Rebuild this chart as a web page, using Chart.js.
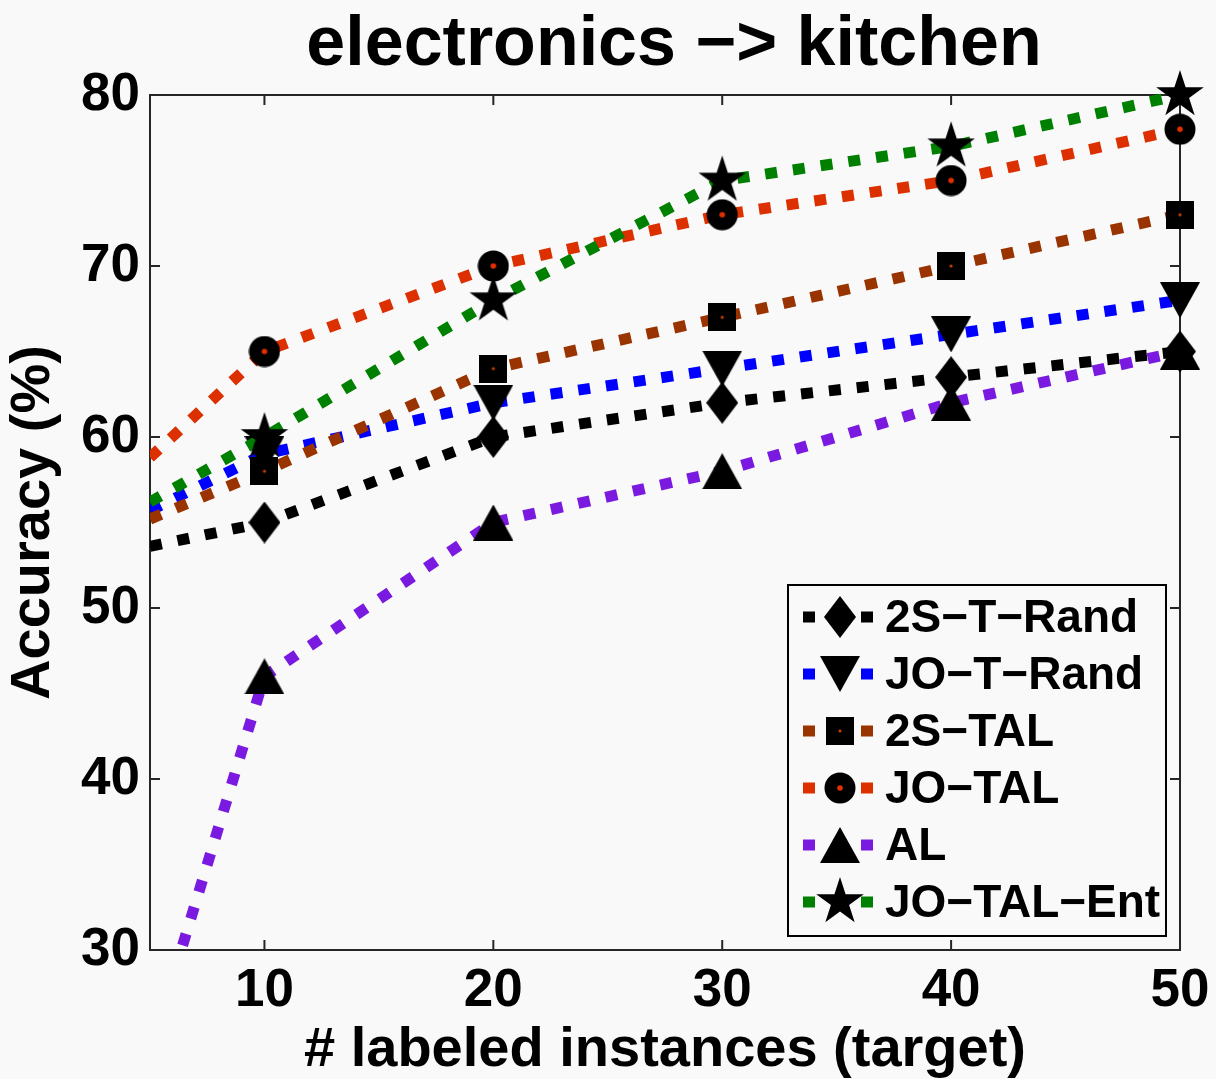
<!DOCTYPE html>
<html>
<head>
<meta charset="utf-8">
<script src="https://cdn.jsdelivr.net/npm/chart.js@4"></script>
<style>
html,body{margin:0;padding:0;background:#f9f9f9}
canvas{display:block}
</style>
</head>
<body>
<canvas id="myChart" width="1216" height="1079"></canvas>
<script>
// values (x = 5 is the left edge of the axes)
const xValues = [5, 10, 20, 30, 40, 50]
const xTicks = [10, 20, 30, 40, 50]
const seriesNames = ['2S\u2212T\u2212Rand', 'JO\u2212T\u2212Rand', '2S\u2212TAL', 'JO\u2212TAL', 'AL', 'JO\u2212TAL\u2212Ent']
const s2TRand = [53.6, 55, 60, 62, 63.5, 65]
const joTRand = [55.7, 59, 62, 64, 66, 68]
const s2TAL = [55.2, 58, 64, 67, 70, 73]
const joTAL = [58.8, 65, 70, 73, 75, 78]
const al = [24, 46, 55, 58, 62, 65]
const joTALEnt = [56.2, 60, 68, 75, 77, 80]

const colors = ['#000000', '#0000ff', '#993300', '#dd3000', '#7a1ae0', '#008000']
const markerKinds = ['diamond', 'down', 'square', 'circle', 'up', 'star']
const allSeries = [s2TRand, joTRand, s2TAL, joTAL, al, joTALEnt]

const FONT = '"Liberation Sans", Arial, sans-serif'

function makeMarker(kind) {
  let c = document.createElement('canvas')
  let w = 40, h = 36
  if (kind == 'diamond') { w = 32; h = 42 }
  if (kind == 'square') { w = 28; h = 28 }
  if (kind == 'circle') { w = 32; h = 32 }
  if (kind == 'star') { w = 52; h = 52 }
  c.width = w; c.height = h
  let g = c.getContext('2d')
  g.fillStyle = '#000'
  g.beginPath()
  if (kind == 'diamond') {
    g.moveTo(w / 2, 0); g.lineTo(w, h / 2); g.lineTo(w / 2, h); g.lineTo(0, h / 2)
  } else if (kind == 'down') {
    g.moveTo(0, 0); g.lineTo(w, 0); g.lineTo(w / 2, h)
  } else if (kind == 'up') {
    g.moveTo(w / 2, 0); g.lineTo(w, h); g.lineTo(0, h)
  } else if (kind == 'square') {
    g.rect(0, 0, w, h)
  } else if (kind == 'circle') {
    g.arc(w / 2, h / 2, 15.5, 0, Math.PI * 2)
  } else if (kind == 'star') {
    let R = 25, r = R * 0.382
    for (let i = 0; i < 10; i++) {
      let a = -Math.PI / 2 + i * Math.PI / 5
      let rr = i % 2 ? r : R
      g.lineTo(w / 2 + rr * Math.cos(a), h / 2 + rr * Math.sin(a))
    }
  }
  g.closePath()
  g.fill()
  if (kind == 'circle' || kind == 'square') {
    g.fillStyle = kind == 'circle' ? '#e03000' : '#c84000'
    g.beginPath()
    g.arc(w / 2, h / 2, kind == 'circle' ? 2.8 : 1.6, 0, Math.PI * 2)
    g.fill()
  }
  return c
}

const markers = markerKinds.map(makeMarker)

const datasets = allSeries.map((vals, i) => ({
  label: seriesNames[i],
  data: xValues.map((x, j) => ({ x: x, y: vals[j] })),
  borderColor: colors[i],
  backgroundColor: colors[i],
  borderWidth: 11,
  borderDash: [12, 16],
  tension: 0,
  pointStyle: markers[i],
  pointRadius: ctx => ctx.dataIndex === 0 ? 0 : 5,
  pointHoverRadius: ctx => ctx.dataIndex === 0 ? 0 : 5,
  order: 5 - i,
  clip: { left: 0, top: 30, right: 30, bottom: 0 }
}))

const bgPlugin = {
  id: 'bg',
  beforeDraw(chart) {
    let ctx = chart.ctx
    ctx.save()
    ctx.fillStyle = '#f9f9f9'
    ctx.fillRect(0, 0, chart.width, chart.height)
    ctx.restore()
  }
}

const boxPlugin = {
  id: 'box',
  beforeDatasetsDraw(chart) {
    let ctx = chart.ctx, a = chart.chartArea
    let xs = chart.scales.x, ys = chart.scales.y
    ctx.save()
    ctx.strokeStyle = '#262626'
    ctx.lineWidth = 2
    ctx.strokeRect(a.left, a.top, a.right - a.left, a.bottom - a.top)
    ctx.beginPath()
    for (const t of xs.ticks) {
      let px = xs.getPixelForValue(t.value)
      ctx.moveTo(px, a.bottom); ctx.lineTo(px, a.bottom - 10)
      ctx.moveTo(px, a.top); ctx.lineTo(px, a.top + 10)
    }
    for (const t of ys.ticks) {
      let py = ys.getPixelForValue(t.value)
      ctx.moveTo(a.left, py); ctx.lineTo(a.left + 10, py)
      ctx.moveTo(a.right, py); ctx.lineTo(a.right - 10, py)
    }
    ctx.stroke()
    ctx.restore()
  },
  afterDraw(chart) {
    let ctx = chart.ctx, a = chart.chartArea
    ctx.save()
    // title
    ctx.fillStyle = '#000'
    ctx.font = 'bold 70px ' + FONT
    ctx.textAlign = 'center'
    ctx.textBaseline = 'alphabetic'
    ctx.fillText('electronics \u2212> kitchen', (a.left + a.right) / 2 + 9, 65)

    // legend box
    let bl = a.right - 392, br = a.right - 14, bt = a.bottom - 365, bb = a.bottom - 14
    ctx.fillStyle = '#f9f9f9'
    ctx.fillRect(bl, bt, br - bl, bb - bt)
    ctx.strokeStyle = '#000'
    ctx.lineWidth = 2
    ctx.strokeRect(bl, bt, br - bl, bb - bt)
    ctx.font = 'bold 46px ' + FONT
    ctx.textAlign = 'left'
    ctx.textBaseline = 'middle'
    chart.data.datasets.forEach((ds, i) => {
      let cy = bt + 32 + i * 57
      ctx.fillStyle = ds.borderColor
      ctx.fillRect(bl + 15, cy - 5.5, 12, 11)
      ctx.fillRect(bl + 73, cy - 5.5, 12, 11)
      let m = markers[i]
      ctx.drawImage(m, bl + 52 - m.width / 2, cy - m.height / 2)
      ctx.fillStyle = '#000'
      ctx.fillText(ds.label, bl + 97, cy + 2)
    })
    ctx.restore()
  }
}

const tickFont = { family: FONT, size: 53, weight: 'bold' }
const titleFont = { family: FONT, size: 56, weight: 'bold', lineHeight: 1 }

new Chart(document.getElementById('myChart'), {
  type: 'line',
  data: { datasets },
  options: {
    responsive: false,
    devicePixelRatio: 1,
    animation: false,
    events: [],
    layout: { padding: { top: 95, right: 36, left: 0, bottom: 0 } },
    plugins: { legend: { display: false }, tooltip: { enabled: false } },
    scales: {
      x: {
        type: 'linear',
        min: 5,
        max: 50,
        afterBuildTicks: s => { s.ticks = xTicks.map(v => ({ value: v })) },
        afterFit: s => { s.height = 129; s.paddingLeft = 0; s.paddingRight = 0 },
        grid: { display: false, drawTicks: false },
        border: { display: false },
        ticks: { font: tickFont, color: '#000', padding: 10, maxRotation: 0, autoSkip: false },
        title: { display: true, text: '# labeled instances (target)', font: titleFont, color: '#000', padding: { top: 0, bottom: 0 } }
      },
      y: {
        min: 30,
        max: 80,
        afterFit: s => { s.width = 150; s.paddingTop = 0; s.paddingBottom = 0 },
        grid: { display: false, drawTicks: false },
        border: { display: false },
        ticks: { stepSize: 10, font: tickFont, color: '#000', padding: 10 },
        title: { display: true, text: 'Accuracy (%)', font: titleFont, color: '#000', padding: { top: 6, bottom: 0 } }
      }
    }
  },
  plugins: [bgPlugin, boxPlugin]
})
</script>
</body>
</html>
